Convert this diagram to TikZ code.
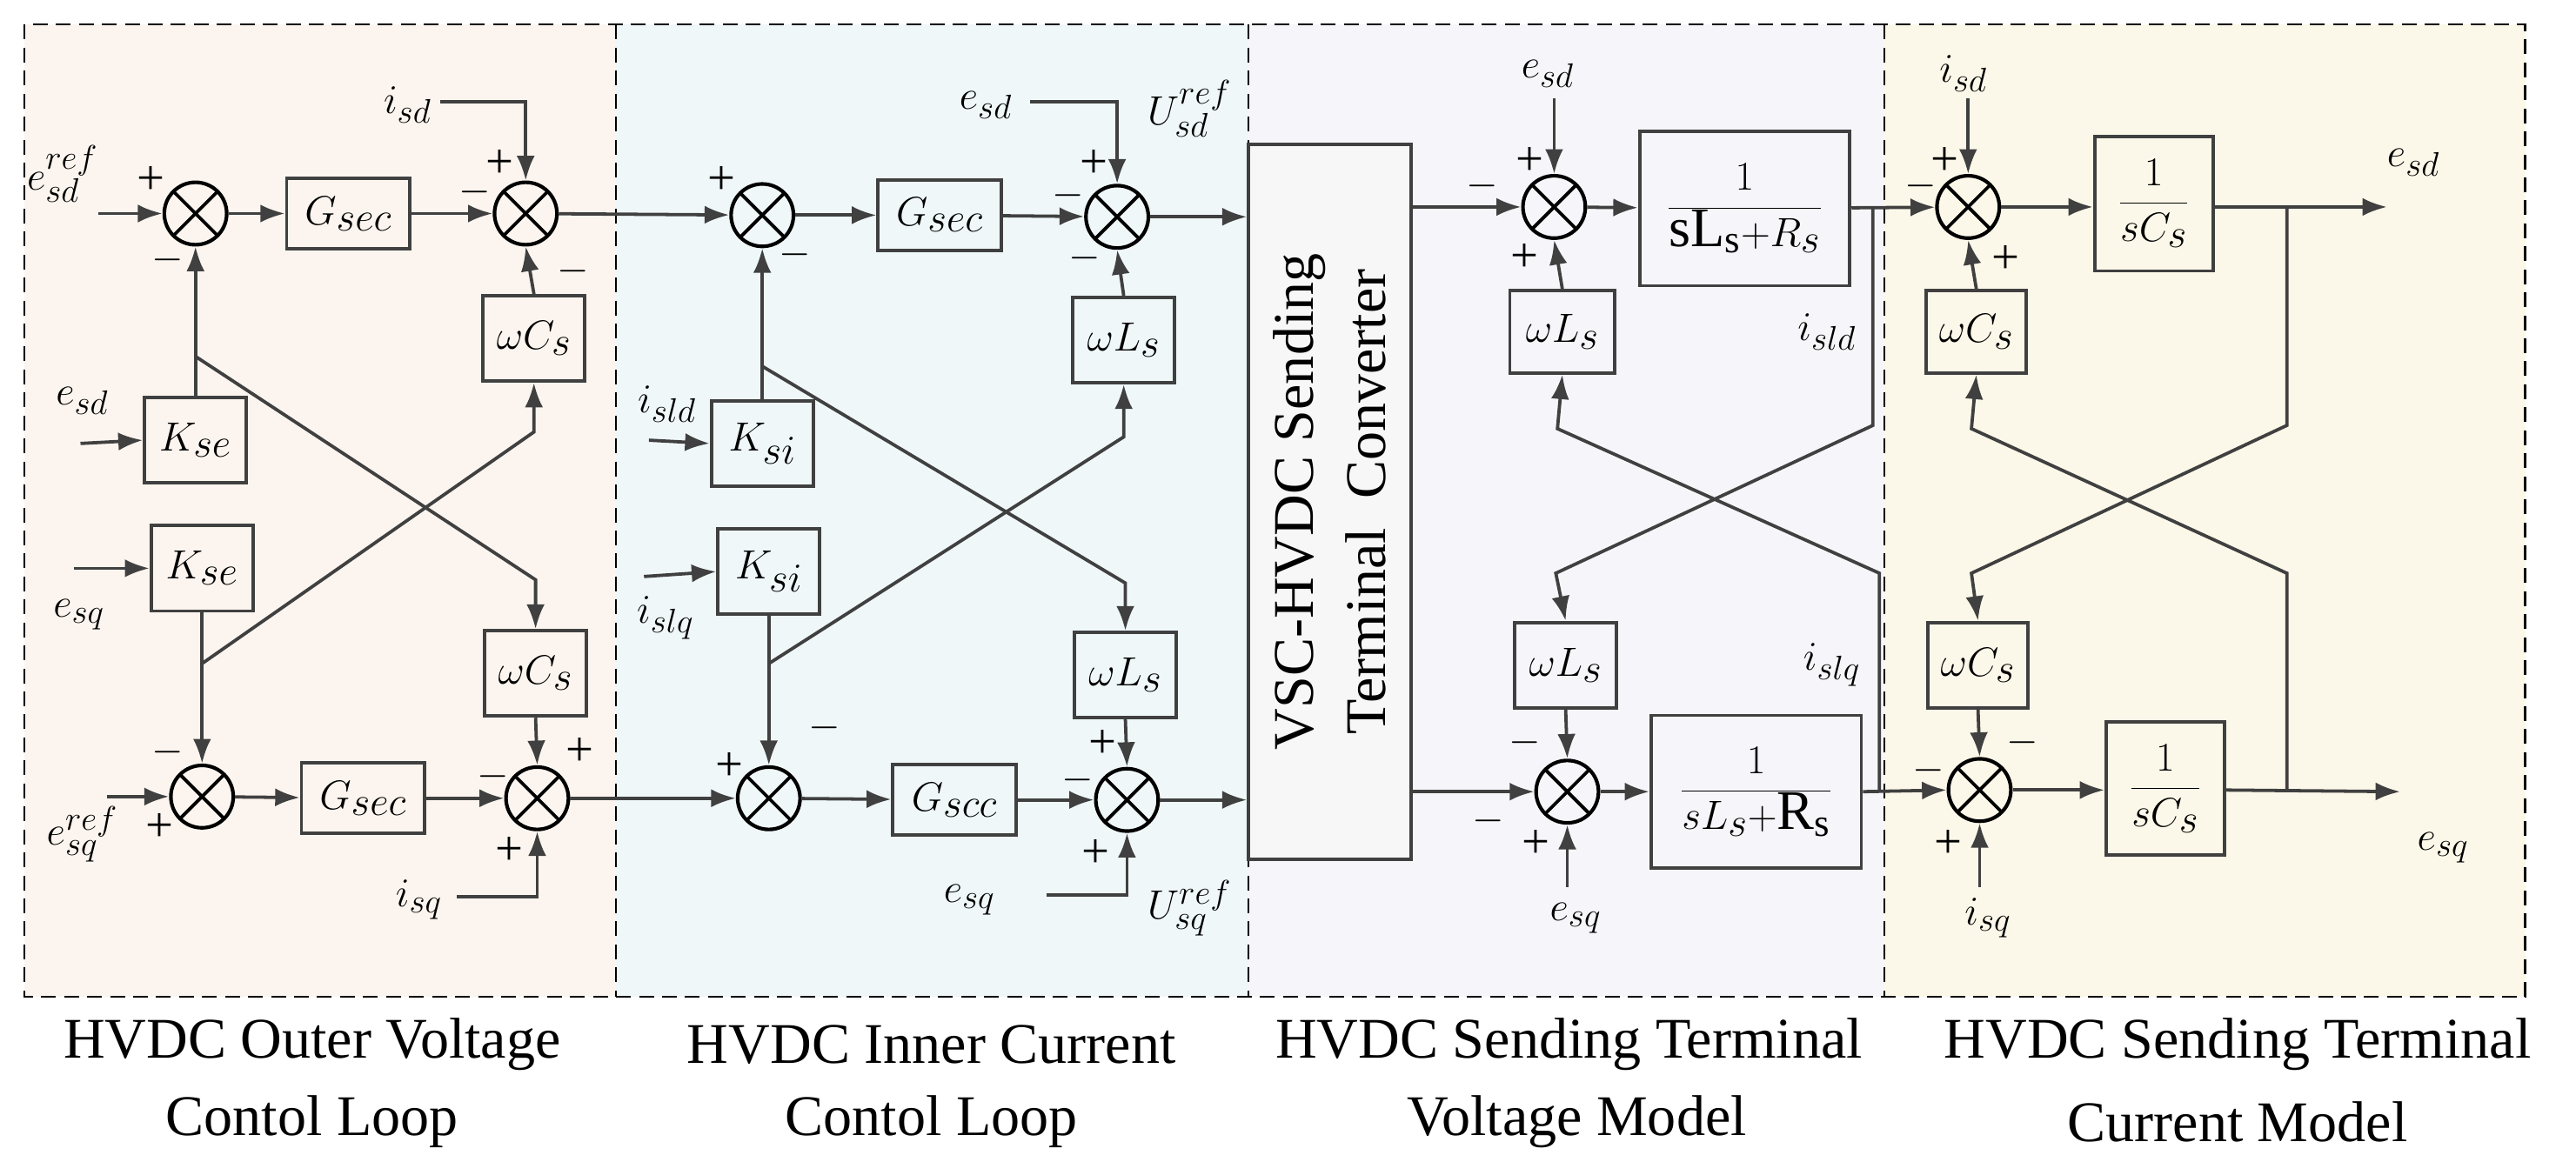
\documentclass[tikz,border=0pt]{standalone}
\usepackage{fontspec}
\setmainfont{Liberation Serif}
\usetikzlibrary{arrows.meta}
\definecolor{lc}{HTML}{404040}
\begin{document}
\begin{tikzpicture}[x=1pt,y=-1pt,
 ln/.style={line width=2pt, draw=lc},
 ar/.style={ln, -{Latex[length=15pt,width=11pt]}},
 blk/.style={draw=lc, line width=2pt, inner sep=0, font=\fontsize{34}{36}\selectfont},
 sum/.style={circle, draw=black, line width=2.2pt, minimum size=38pt, inner sep=0,
   path picture={\draw[line width=2pt] (path picture bounding box.south west)--(path picture bounding box.north east) (path picture bounding box.north west)--(path picture bounding box.south east);}},
 lab/.style={font=\fontsize{32}{34}\selectfont, inner sep=0},
 sg/.style={font=\fontsize{30}{30}\selectfont, inner sep=0},
 captxt/.style={font=\fontsize{35}{38}\selectfont, inner sep=0}]
\useasboundingbox (0,0) rectangle (1568,707);
% panels
\fill[fill={rgb,255:red,252;green,245;blue,239}] (15,15) rectangle (375,607);
\fill[fill={rgb,255:red,239;green,247;blue,249}] (375,15) rectangle (760,607);
\fill[fill={rgb,255:red,246;green,246;blue,250}] (760,15) rectangle (1147,607);
\fill[fill={rgb,255:red,252;green,248;blue,233}] (1147,15) rectangle (1537,607);
\draw[dashed, line width=1.2pt, dash pattern=on 9pt off 5pt] (15,15) rectangle (1537,607);
\foreach \x in {375,760,1147} \draw[dashed, line width=1.2pt, dash pattern=on 9pt off 5pt] (\x,15) -- (\x,607);
\node[captxt] (c1a) at (190,636) {HVDC Outer Voltage};
\node[captxt] (c1b) at (190,683) {Contol Loop};
\node[captxt] (c2a) at (567,636) {HVDC Inner Current};
\node[captxt] (c2b) at (567,683) {Contol Loop};
\node[captxt] (c3a) at (955,636) {HVDC Sending Terminal};
\node[captxt] (c3b) at (960,683) {Voltage Model};
\node[captxt] (c4a) at (1362,636) {HVDC Sending Terminal};
\node[captxt] (c4b) at (1362,683) {Current Model};

% ---------- panel 1
\node[sum] (s1) at (119,130) {};
\node[blk, minimum width=75pt, minimum height=43pt] (g1) at (212,130) {$G_{sec}$};
\node[sum] (s2) at (320,130) {};
\node[blk, minimum width=62pt, minimum height=52pt, font=\fontsize{37}{37}\selectfont] (wc1) at (325,206) {$\omega C_s$};
\node[blk, minimum width=62pt, minimum height=52pt] (ks1) at (119,268) {$K_{se}$};
\node[blk, minimum width=62pt, minimum height=52pt] (ks2) at (123,346) {$K_{se}$};
\node[blk, minimum width=62pt, minimum height=52pt, font=\fontsize{37}{37}\selectfont] (wc2) at (326,410) {$\omega C_s$};
\node[sum] (s3) at (123,485) {};
\node[blk, minimum width=75pt, minimum height=43pt] (g3) at (221,486) {$G_{sec}$};
\node[sum] (s4) at (327,486) {};
\node[lab] (l1) at (38,106) {$e_{sd}^{ref}$};
\node[lab] (l2) at (248,64) {$i_{sd}$};
\node[lab] (l3) at (50,244) {$e_{sd}$};
\node[lab] (l4) at (48,374) {$e_{sq}$};
\node[lab] (l5) at (50,508) {$e_{sq}^{ref}$};
\node[lab] (l6) at (255,548) {$i_{sq}$};
\node[sg] at (92,110) {+}; \node[sg] at (102,158) {$-$};
\node[sg] at (304,100) {+}; \node[sg] at (289,117) {$-$}; \node[sg] at (349,165) {$-$};
\node[sg] at (102,458) {$-$}; \node[sg] at (97,504) {+};
\node[sg] at (300,473) {$-$}; \node[sg] at (353,458) {+}; \node[sg] at (310,518) {+};
\coordinate (i1) at (60,130); \coordinate (i2) at (49,270); \coordinate (i3) at (45,346);
\coordinate (i4) at (65,485); \coordinate (i5) at (268,62); \coordinate (i6) at (278,546);
\draw[ar] (i1) -- (s1.west);
\draw[ar] (s1) -- (g1); \draw[ar] (g1) -- (s2);
\draw[ar] (i5) -| (s2.north);
\draw[ar] (wc1.north) -- (s2.south);
\draw[ar] (ks1.north) -- (s1.south);
\draw[ar] (ks2.south) -- (s3.north);
\draw[ar] (i2) -- (ks1.west); \draw[ar] (i3) -- (ks2.west);
\draw[ar] (i4) -- (s3.west); \draw[ar] (s3) -- (g3); \draw[ar] (g3) -- (s4);
\draw[ar] (i6) -| (s4.south);
\draw[ar] (wc2.south) -- (s4.north);
\coordinate (x1a) at (119,217); \coordinate (x1b) at (326,353);
\coordinate (x2a) at (123,404); \coordinate (x2b) at (325,263);
\draw[ar] (x1a) -- (x1b) -- (wc2.north);
\draw[ar] (x2a) -- (x2b) -- (wc1.south);

% ---------- panel 2
\node[sum] (s5) at (464,131) {};
\node[blk, minimum width=75pt, minimum height=43pt] (g5) at (572,131) {$G_{sec}$};
\node[sum] (s6) at (680,132) {};
\node[blk, minimum width=62pt, minimum height=52pt, font=\fontsize{37}{37}\selectfont] (wl1) at (684,207) {$\omega L_s$};
\node[blk, minimum width=62pt, minimum height=52pt] (ki1) at (464,270) {$K_{si}$};
\node[blk, minimum width=62pt, minimum height=52pt] (ki2) at (468,348) {$K_{si}$};
\node[blk, minimum width=62pt, minimum height=52pt, font=\fontsize{37}{37}\selectfont] (wl2) at (685,411) {$\omega L_s$};
\node[sum] (s7) at (468,486) {};
\node[blk, minimum width=75pt, minimum height=43pt] (g7) at (581,487) {$G_{scc}$};
\node[sum] (s8) at (686,487) {};
\node[lab] (m1) at (600,64) {$e_{sd}$};
\node[lab] (m2) at (724,66) {$U_{sd}^{ref}$};
\node[lab] (m3) at (406,246) {$i_{sld}$};
\node[lab] (m4) at (405,376) {$i_{slq}$};
\node[lab] (m5) at (590,548) {$e_{sq}$};
\node[lab] (m6) at (724,553) {$U_{sq}^{ref}$};
\node[sg] at (439,110) {+}; \node[sg] at (484,155) {$-$};
\node[sg] at (666,100) {+}; \node[sg] at (650,119) {$-$}; \node[sg] at (660,157) {$-$};
\node[sg] at (444,467) {+}; \node[sg] at (502,443) {$-$};
\node[sg] at (671,453) {+}; \node[sg] at (656,475) {$-$}; \node[sg] at (667,520) {+};
\coordinate (j1) at (627,62); \coordinate (j2) at (395,268); \coordinate (j3) at (392,351);
\coordinate (j4) at (637,545);
\draw[ar] (s2) -- (s5);
\draw[ar] (s4) -- (s7);
\draw[ar] (s5) -- (g5); \draw[ar] (g5) -- (s6);
\draw[ar] (j1) -| (s6.north);
\draw[ar] (wl1.north) -- (s6.south);
\draw[ar] (ki1.north) -- (s5.south);
\draw[ar] (ki2.south) -- (s7.north);
\draw[ar] (j2) -- (ki1.west); \draw[ar] (j3) -- (ki2.west);
\draw[ar] (s7) -- (g7); \draw[ar] (g7) -- (s8);
\draw[ar] (j4) -| (s8.south);
\draw[ar] (wl2.south) -- (s8.north);
\coordinate (y1a) at (464,223); \coordinate (y1b) at (685,355);
\coordinate (y2a) at (468,404); \coordinate (y2b) at (684,266);
\draw[ar] (y1a) -- (y1b) -- (wl2.north);
\draw[ar] (y2a) -- (y2b) -- (wl1.south);

% ---------- converter
\node[draw=lc, line width=2pt, fill=white!60!lightgray!30, minimum width=99pt, minimum height=435pt, inner sep=0] (vsc) at (809.5,305.5) {};
\node[rotate=90, align=center, font=\fontsize{35}{44}\selectfont] (vt) at (vsc.center) {VSC-HVDC Sending\\Terminal\ \ Converter};
\draw[ar] (s6.east) -- (s6.east -| vsc.west);
\draw[ar] (s8.east) -- (s8.east -| vsc.west);

% ---------- panel 3
\node[sum] (s9) at (946,126) {};
\node[blk, minimum width=128pt, minimum height=94pt] (r1) at (1062,127) {$\displaystyle\frac{1}{\mathrm{sL}_{\mathrm{s}}\mathrm{+}R_s}$};
\node[blk, minimum width=64pt, minimum height=50pt, font=\fontsize{37}{37}\selectfont] (wl3) at (951,202) {$\omega L_s$};
\node[blk, minimum width=62pt, minimum height=52pt, font=\fontsize{37}{37}\selectfont] (wl4) at (953,405) {$\omega L_s$};
\node[sum] (s10) at (954,482) {};
\node[blk, minimum width=128pt, minimum height=93pt] (r2) at (1069,482) {$\displaystyle\frac{1}{sL_s\mathrm{+R_s}}$};
\node[lab] (n1) at (942,45) {$e_{sd}$};
\node[lab] (n2) at (1112,202) {$i_{sld}$};
\node[lab] (n3) at (1115,405) {$i_{slq}$};
\node[lab] (n4) at (959,559) {$e_{sq}$};
\node[sg] at (931,98) {+}; \node[sg] at (902,113) {$-$}; \node[sg] at (928,157) {+};
\node[sg] at (928,452) {$-$}; \node[sg] at (906,500) {$-$}; \node[sg] at (935,514) {+};
\coordinate (k1) at (946,60); \coordinate (k2) at (954,540);
\draw[ar] (vsc.east |- s9) -- (s9.west);
\draw[ar] (vsc.east |- s10) -- (s10.west);
\draw[ar] (k1) -- (s9.north);
\draw[ar] (k2) -- (s10.south);
\draw[ar] (s9) -- (r1); \draw[ar] (s10) -- (r2);
\draw[ar] (wl3.north) -- (s9.south);
\draw[ar] (wl4.south) -- (s10.north);

% ---------- panel 4
\node[sum] (s11) at (1198,126) {};
\node[blk, minimum width=72pt, minimum height=82pt] (c1) at (1311,124) {$\displaystyle\frac{1}{sC_s}$};
\node[blk, minimum width=61pt, minimum height=50pt, font=\fontsize{37}{37}\selectfont] (wc3) at (1203,202) {$\omega C_s$};
\node[blk, minimum width=61pt, minimum height=52pt, font=\fontsize{37}{37}\selectfont] (wc4) at (1204,405) {$\omega C_s$};
\node[sum] (s12) at (1205,481) {};
\node[blk, minimum width=72pt, minimum height=81pt] (c2) at (1318,480) {$\displaystyle\frac{1}{sC_s}$};
\node[lab] (o1) at (1195,45) {$i_{sd}$};
\node[lab] (o2) at (1469,99) {$e_{sd}$};
\node[lab] (o3) at (1487,516) {$e_{sq}$};
\node[lab] (o4) at (1210,559) {$i_{sq}$};
\node[sg] at (1184,98) {+}; \node[sg] at (1169,113) {$-$}; \node[sg] at (1221,158) {+};
\node[sg] at (1231,452) {$-$}; \node[sg] at (1174,469) {$-$}; \node[sg] at (1186,514) {+};
\coordinate (p1) at (1198,60); \coordinate (p2) at (1205,540);
\coordinate (p3) at (1453,126); \coordinate (p4) at (1461,482);
\draw[ar] (p1) -- (s11.north);
\draw[ar] (p2) -- (s12.south);
\draw[ar] (r1) -- (s11); \draw[ar] (r2.east) -- (s12.west);
\draw[ar] (s11) -- (s11 -| c1.west);
\draw[ar] (s12) -- (s12 -| c2.west);
\draw[ar] (c1.east |- s11) -- (p3);
\draw[ar] (c2.east |- s12) -- (p4);
\draw[ar] (wc3.north) -- (s11.south);
\draw[ar] (wc4.south) -- (s12.north);
% crossings panel 3
\coordinate (q1) at (1140,126); \coordinate (q2) at (1140,259); \coordinate (q3) at (947,349);
\coordinate (q4) at (1144,482); \coordinate (q5) at (1144,349); \coordinate (q6) at (948,261);
\draw[ar] (q1) -- (q2) -- (q3) -- (wl4.north);
\draw[ar] (q4) -- (q5) -- (q6) -- (wl3.south);
% crossings panel 4
\coordinate (u1) at (1392,126); \coordinate (u2) at (1392,259); \coordinate (u3) at (1200,349);
\coordinate (u4) at (1392,482); \coordinate (u5) at (1392,349); \coordinate (u6) at (1200,261);
\draw[ar] (u1) -- (u2) -- (u3) -- (wc4.north);
\draw[ar] (u4) -- (u5) -- (u6) -- (wc3.south);
\end{tikzpicture}
\end{document}
